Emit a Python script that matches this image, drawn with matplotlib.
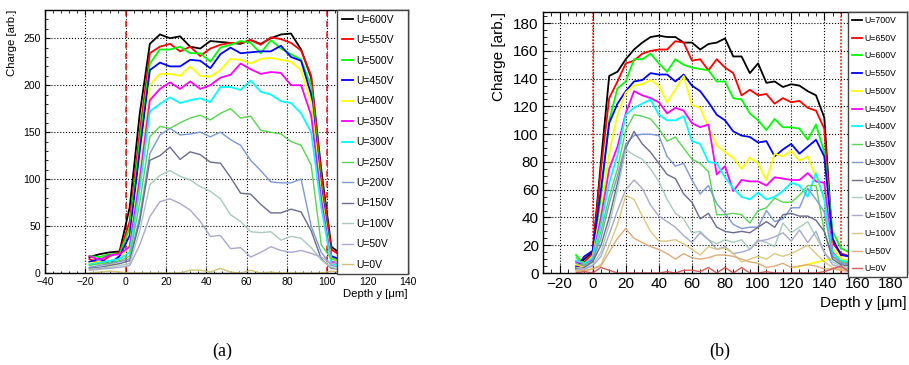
import matplotlib.pyplot as plt
import numpy as np
from matplotlib.ticker import MultipleLocator

plt.rcParams['font.family'] = ['Liberation Sans', 'DejaVu Sans']

####### panel (a) data
depth_a = np.arange(-18, 108, 5)
labels_a = ['U=600V', 'U=550V', 'U=500V', 'U=450V', 'U=400V', 'U=350V', 'U=300V',
            'U=250V', 'U=200V', 'U=150V', 'U=100V', 'U=50V', 'U=0V']
a_600 = [17, 20, 22, 23, 70, 170, 244, 254, 250, 252, 241, 239, 247, 246, 245, 244, 248, 244, 250, 254, 255, 238, 208, 110, 28, 20]
a_550 = [15, 10, 18, 22, 55, 150, 234, 241, 244, 236, 241, 231, 239, 243, 245, 245, 248, 243, 251, 249, 245, 237, 210, 105, 25, 18]
a_500 = [18, 17, 20, 20, 48, 140, 223, 238, 238, 241, 234, 234, 225, 240, 243, 247, 245, 234, 248, 239, 233, 227, 199, 95, 16, 12]
a_450 = [12, 15, 10, 18, 40, 130, 216, 224, 220, 220, 227, 226, 218, 233, 240, 234, 235, 236, 236, 242, 230, 226, 190, 90, 18, 14]
a_400 = [10, 12, 8, 14, 30, 110, 200, 212, 212, 210, 220, 210, 209, 216, 228, 227, 223, 228, 229, 227, 225, 216, 182, 85, 15, 12]
a_350 = [18, 14, 19, 20, 28, 100, 184, 196, 203, 196, 204, 196, 200, 208, 211, 223, 217, 212, 214, 213, 200, 200, 168, 78, 12, 10]
a_300 = [9, 11, 13, 15, 22, 90, 172, 180, 187, 181, 184, 186, 182, 198, 198, 195, 205, 193, 190, 183, 181, 170, 150, 70, 10, 8]
a_250 = [8, 10, 11, 13, 18, 75, 145, 156, 154, 160, 165, 168, 163, 170, 175, 165, 167, 152, 150, 148, 140, 136, 115, 30, 15, 12]
a_200 = [6, 8, 10, 12, 15, 60, 127, 147, 154, 147, 148, 150, 145, 150, 142, 136, 120, 109, 97, 96, 96, 100, 50, 22, 8, 6]
a_150 = [5, 6, 8, 10, 13, 55, 120, 125, 134, 121, 129, 126, 118, 117, 102, 85, 84, 73, 64, 64, 68, 65, 45, 15, 5, 4]
a_100 = [4, 5, 6, 8, 10, 45, 94, 104, 109, 103, 99, 92, 87, 79, 62, 55, 44, 43, 44, 35, 39, 37, 27, 14, 6, 4]
a_50 = [3, 4, 5, 6, 8, 30, 60, 76, 79, 74, 67, 55, 39, 40, 26, 27, 17, 22, 28, 24, 22, 24, 21, 17, 10, 12]
a_0 = [0, 1, 2, 1, 0, 0, 0, 0, 0, 0, 3, 3, 1, 5, 1, 0, 3, 0, 1, 0, 0, 0, 0, 0, 2, 1]
edges_a = [0, 100]

####### panel (b) data
depth_b = np.arange(-10, 156, 5)
labels_b = ['U=700V', 'U=650V', 'U=600V', 'U=550V', 'U=500V', 'U=450V', 'U=400V', 'U=350V',
            'U=300V', 'U=250V', 'U=200V', 'U=150V', 'U=100V', 'U=50V', 'U=0V']
b_700 = [5, 10, 15, 80, 142, 145, 154, 161, 166, 170, 171, 170, 170, 166, 166, 161, 165, 166, 169, 156, 156, 144, 151, 137, 138, 134, 136, 135, 131, 128, 112, 22, 14, 12]
b_650 = [3, 8, 14, 75, 126, 138, 151, 153, 158, 160, 161, 161, 167, 166, 153, 154, 146, 154, 148, 144, 128, 132, 128, 129, 122, 126, 123, 124, 119, 117, 104, 22, 14, 12]
b_600 = [13, 6, 10, 55, 110, 133, 138, 154, 154, 158, 151, 145, 154, 150, 148, 147, 146, 138, 138, 126, 125, 115, 110, 103, 111, 105, 105, 104, 96, 107, 87, 30, 18, 15]
b_550 = [4, 12, 16, 60, 108, 122, 131, 138, 139, 144, 143, 143, 138, 143, 135, 131, 123, 114, 110, 102, 99, 98, 94, 95, 84, 89, 93, 86, 91, 96, 84, 25, 13, 12]
b_500 = [6, 5, 12, 45, 86, 114, 130, 135, 136, 139, 135, 123, 132, 142, 121, 119, 105, 92, 87, 83, 75, 83, 79, 67, 86, 84, 88, 81, 84, 69, 55, 18, 10, 9]
b_450 = [8, 7, 10, 40, 75, 91, 115, 131, 128, 126, 123, 115, 119, 117, 108, 105, 107, 71, 77, 59, 67, 66, 66, 63, 69, 68, 67, 67, 72, 66, 65, 15, 8, 7]
b_400 = [9, 7, 11, 35, 65, 85, 114, 119, 122, 125, 114, 110, 110, 113, 95, 93, 80, 79, 69, 61, 55, 53, 58, 53, 55, 59, 65, 63, 55, 72, 53, 14, 9, 8]
b_350 = [11, 6, 8, 30, 55, 75, 103, 114, 113, 111, 104, 95, 98, 90, 82, 79, 73, 42, 42, 43, 42, 36, 45, 47, 54, 51, 51, 56, 63, 63, 30, 12, 8, 7]
b_300 = [7, 5, 9, 25, 50, 70, 93, 99, 100, 100, 99, 84, 77, 79, 67, 57, 63, 50, 43, 35, 32, 33, 33, 45, 37, 39, 47, 47, 61, 53, 44, 12, 7, 6]
b_250 = [3, 4, 8, 20, 40, 65, 90, 102, 93, 87, 79, 71, 68, 57, 51, 39, 43, 33, 30, 29, 30, 29, 33, 37, 33, 42, 43, 41, 41, 38, 30, 10, 6, 5]
b_200 = [4, 3, 6, 15, 35, 60, 89, 85, 82, 75, 66, 53, 43, 39, 29, 30, 24, 21, 24, 22, 24, 17, 24, 22, 19, 36, 29, 33, 37, 26, 15, 8, 5, 4]
b_150 = [2, 3, 5, 12, 28, 45, 60, 67, 61, 49, 41, 37, 33, 27, 22, 29, 24, 17, 19, 14, 15, 17, 23, 24, 26, 29, 23, 31, 22, 30, 15, 6, 4, 3]
b_100 = [2, 1, 3, 6, 20, 35, 56, 53, 41, 30, 23, 23, 24, 21, 17, 13, 19, 17, 18, 14, 8, 10, 12, 10, 14, 12, 14, 17, 20, 14, 8, 4, 3, 2]
b_50 = [1, 2, 3, 5, 15, 25, 32, 25, 22, 19, 17, 14, 10, 14, 11, 10, 11, 13, 13, 12, 10, 8, 7, 4, 5, 7, 4, 5, 6, 5, 3, 3, 2, 1]
b_0 = [0, 1, 0, 4, 2, 0, 0, 0, 0, 0, 0, 1, 0, 2, 2, 1, 4, 0, 4, 0, 4, 0, 0, 1, 0, 0, 0, 0, 0, 0, 1, 3, 5, 1]
# stray segment of the 500V graph near the bottom
b_500_tail_x = [122, 150]
b_500_tail_y = [4, 12]
edges_b = [0, 150]

bright = ['black', '#ff0000', '#00ff00', '#0000ff', '#ffff00', '#ff00ff', '#00ffff']
colors_a = bright + ['#59d454', '#7d99d1', '#6b6b8e', '#a8cbbb', '#a9a9cb', '#cfc27a']
colors_b = bright + ['#59d454', '#7d99d1', '#6b6b8e', '#a8cbbb', '#a9a9cb', '#d8c882', '#dcab7c', '#d35c5c']


def draw_panel(ax, depth, series, labels, colors, edges, edge_style, xlim, ylim,
               xstep, xminor, ystep, yminor, tsize, lsize, legsize, legx, legspace,
               ticklen, ylab_x, xlab_y):
    for i in range(len(series)):
        lw = 1.3 if i < 7 else 1.0
        ax.plot(depth, series[i], color=colors[i], linewidth=lw, label=labels[i])
    for e in edges:
        ax.axvline(e, color='#ee1111', linestyle=edge_style, linewidth=1.1, zorder=1)
    ax.set_xlim(xlim)
    ax.set_ylim(ylim)
    ax.xaxis.set_major_locator(MultipleLocator(xstep))
    ax.xaxis.set_minor_locator(MultipleLocator(xminor))
    ax.yaxis.set_major_locator(MultipleLocator(ystep))
    ax.yaxis.set_minor_locator(MultipleLocator(yminor))
    ax.grid(True, which='major', linestyle=':', color='black', linewidth=0.8)
    ax.set_axisbelow(True)
    ax.tick_params(which='both', direction='in', top=True, right=True, labelsize=tsize)
    ax.tick_params(which='major', length=ticklen, pad=3)
    ax.tick_params(which='minor', length=ticklen * 0.5)
    for s in ax.spines.values():
        s.set_linewidth(1.0)
    ax.set_ylabel('Charge [arb.]', fontsize=lsize, loc='top')
    ax.yaxis.set_label_coords(ylab_x, 1.0)
    ax.set_xlabel('Depth y [μm]', fontsize=lsize, loc='right')
    ax.xaxis.set_label_coords(1.0, xlab_y)
    leg = ax.legend(loc='upper left', bbox_to_anchor=(legx, 0, 1 - legx, 1), mode='expand',
                    fontsize=legsize, labelspacing=legspace, handlelength=1.1,
                    handletextpad=0.3, borderaxespad=0, borderpad=0.45,
                    fancybox=False, framealpha=1, edgecolor='#444444')
    leg.get_frame().set_linewidth(1.0)
    leg.set_zorder(10)


fig = plt.figure(figsize=(9.09, 3.65), dpi=100)
ax1 = fig.add_axes([0.0495, 0.252, 0.3993, 0.7205])
ax2 = fig.add_axes([0.5974, 0.252, 0.4004, 0.715])

series_a = [a_600, a_550, a_500, a_450, a_400, a_350, a_300, a_250, a_200, a_150, a_100, a_50, a_0]
series_b = [b_700, b_650, b_600, b_550, b_500, b_450, b_400, b_350, b_300, b_250, b_200, b_150,
            b_100, b_50, b_0]

ax2.plot(b_500_tail_x, b_500_tail_y, color='#ffff00', linewidth=1.3)

draw_panel(ax1, depth_a, series_a, labels_a, colors_a, edges_a, (0, (4, 3)),
           [-40, 140], [0, 280], 20, 4, 50, 10, 7.5, 8.2, 7.5, 0.804, 1.0, 3.6, -0.076, -0.06)
draw_panel(ax2, depth_b, series_b, labels_b, colors_b, edges_b, (0, (1.2, 1)),
           [-30, 190], [0, 188], 20, 5, 20, 5, 11, 11, 6.3, 0.838, 1.0, 6, -0.102, -0.088)

fig.text(0.244, 0.038, '(a)', family='Liberation Serif', fontsize=13, ha='center', va='center')
fig.text(0.792, 0.038, '(b)', family='Liberation Serif', fontsize=13, ha='center', va='center')

fig.savefig('out.png', dpi=100)
